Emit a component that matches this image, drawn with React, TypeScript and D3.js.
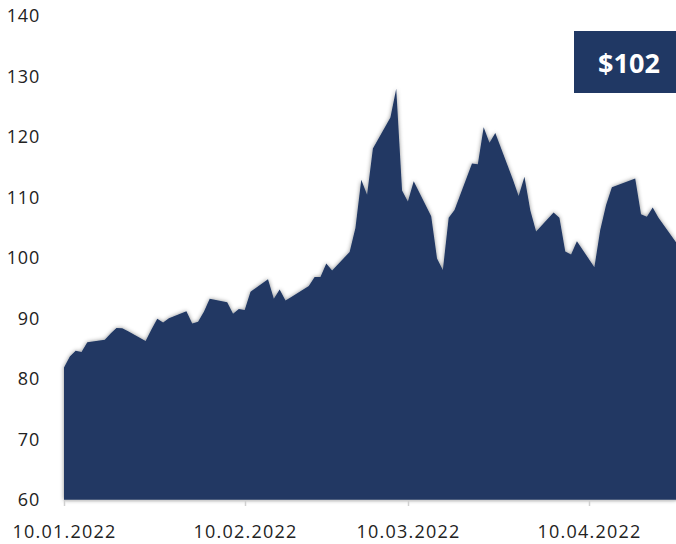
import React from 'react'
import * as d3 from 'd3'

// Brent, daily close, 10 Jan - 25 Apr 2022
const tradeDates = [
  '2022-01-10', '2022-01-11', '2022-01-12', '2022-01-13', '2022-01-14', '2022-01-17', '2022-01-18', '2022-01-19',
  '2022-01-20', '2022-01-21', '2022-01-24', '2022-01-25', '2022-01-26', '2022-01-27', '2022-01-28', '2022-01-31',
  '2022-02-01', '2022-02-02', '2022-02-03', '2022-02-04', '2022-02-07', '2022-02-08', '2022-02-09', '2022-02-10',
  '2022-02-11', '2022-02-14', '2022-02-15', '2022-02-16', '2022-02-17', '2022-02-18', '2022-02-21', '2022-02-22',
  '2022-02-23', '2022-02-24', '2022-02-25', '2022-02-28',
  '2022-03-01', '2022-03-02', '2022-03-03', '2022-03-04', '2022-03-07', '2022-03-08', '2022-03-09', '2022-03-10',
  '2022-03-11', '2022-03-14', '2022-03-15', '2022-03-16', '2022-03-17', '2022-03-18', '2022-03-21', '2022-03-22',
  '2022-03-23', '2022-03-24', '2022-03-25', '2022-03-28', '2022-03-29', '2022-03-30', '2022-03-31',
  '2022-04-01', '2022-04-04', '2022-04-05', '2022-04-06', '2022-04-07', '2022-04-08', '2022-04-11', '2022-04-12',
  '2022-04-13', '2022-04-14', '2022-04-18', '2022-04-19', '2022-04-20', '2022-04-21', '2022-04-22', '2022-04-25',
]
const prices = [
  81.9, 83.72, 84.67, 84.47, 86.06, 86.48, 87.51, 88.44,
  88.38, 87.89, 86.27, 88.2, 89.96, 89.34, 90.03, 91.21,
  89.16, 89.47, 91.11, 93.27, 92.69, 90.78, 91.55, 91.41,
  94.44, 96.48, 93.28, 94.81, 92.97, 93.54, 95.39, 96.84,
  96.84, 99.08, 97.93, 100.99,
  104.97, 112.93, 110.46, 118.11, 123.21, 127.98, 111.14, 109.33,
  112.67, 106.9, 99.91, 98.02, 106.64, 107.93, 115.62, 115.48,
  121.6, 119.03, 120.65, 113.0, 110.23, 113.45, 107.91,
  104.39, 107.53, 106.64, 101.07, 100.58, 102.78, 98.48, 104.64,
  108.78, 111.7, 113.16, 107.25, 106.8, 108.33, 106.65, 102.6,
]
const xTickDates = ['2022-01-10', '2022-02-10', '2022-03-10', '2022-04-10']
const yTicks = [60, 70, 80, 90, 100, 110, 120, 130, 140]
const lastPrice = '$102'

const W = 676, H = 544
const navy = '#203864'
const font = "'Open Sans', sans-serif"

export default function App() {
  const parse = d3.utcParse('%Y-%m-%d')
  const fmt = d3.utcFormat('%d.%m.%Y')
  const data = tradeDates.map((d, i) => ({ date: parse(d) as Date, v: prices[i] }))

  const x = d3.scaleUtc()
    .domain([data[0].date, data[data.length - 1].date])
    .range([64, 676])
  const y = d3.scaleLinear().domain([60, 140]).range([500, 16])

  const area = d3.area<{ date: Date, v: number }>()
    .x(d => x(d.date))
    .y0(y(60))
    .y1(d => y(d.v))
    .curve(d3.curveLinear)

  return (
    <svg width={W} height={H} style={{ position: 'absolute', left: 0, top: 0, background: '#fff' }}>
      <defs>
        <filter id="shadow" x="-5%" y="-5%" width="110%" height="110%">
          <feDropShadow dx="0" dy="0" stdDeviation="2.2" floodColor="#000" floodOpacity="0.45" />
        </filter>
      </defs>

      <path d={area(data) || ''} fill={navy} filter="url(#shadow)" />

      {/* x axis */}
      <line x1={64} x2={676} y1={500.5} y2={500.5} stroke="#d0d0d0" strokeWidth={1.5} />
      {xTickDates.map(s => {
        const d = parse(s) as Date
        const px = Math.round(x(d)) + 0.5
        return (
          <g key={s}>
            <line x1={px} x2={px} y1={500} y2={506} stroke="#d0d0d0" strokeWidth={1.5} />
            <text x={px} y={538} textAnchor="middle" fontFamily={font} fontSize={18}
              letterSpacing={1.2} fill="#222">{fmt(d)}</text>
          </g>
        )
      })}

      {/* y axis labels */}
      {yTicks.map(t => (
        <text key={t} x={40} y={y(t)} dy="0.36em" textAnchor="end" fontFamily={font}
          fontSize={18} letterSpacing={0.8} fill="#222">{t}</text>
      ))}

      {/* last price badge */}
      <rect x={574} y={31} width={102} height={62} fill={navy} />
      <text x={629} y={73} textAnchor="middle" fontFamily={font} fontWeight={700}
        fontSize={27} fill="#fff">{lastPrice}</text>
    </svg>
  )
}
